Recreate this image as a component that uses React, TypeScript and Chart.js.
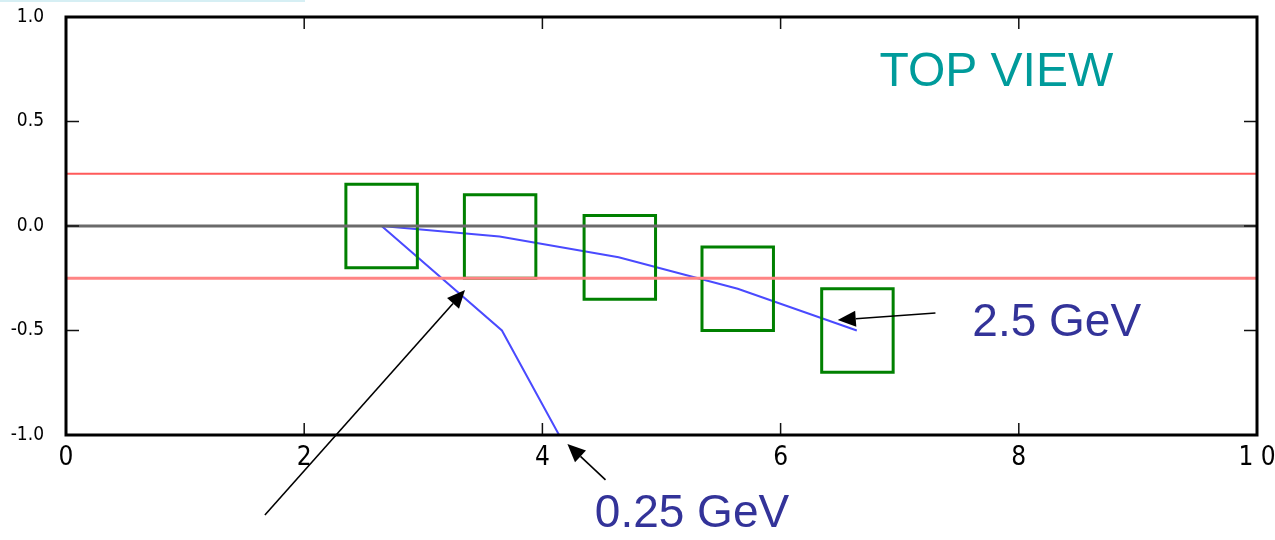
import React, { useEffect, useRef } from "react";
import { Chart, registerables } from "chart.js";

Chart.register(...registerables);

// Axis
const xTicks = [0, 2, 4, 6, 8, 10];
const yTicks = [-1.0, -0.5, 0.0, 0.5, 1.0];

// Reference lines
const redLevels = [0.25, -0.25];
const zeroLevel = 0;

// Track boxes (centers, size)
const boxX = [2.65, 3.645, 4.65, 5.64, 6.645];
const boxY = [0.0, -0.05, -0.15, -0.3, -0.5];
const boxW = 0.6;
const boxH = 0.4;

// 2.5 GeV trajectory
const highX = [2.65, 3.64, 4.64, 5.64, 6.64];
const highY = [0.0, -0.05, -0.15, -0.3, -0.5];

// 0.25 GeV trajectory
const lowX = [2.65, 3.66, 4.14];
const lowY = [0.0, -0.5, -1.0];

// Annotations (data coordinates)
const arrows = [
  { from: [1.67, -1.383], to: [3.35, -0.306] },
  { from: [4.53, -1.215], to: [4.21, -1.043] },
  { from: [7.30, -0.416], to: [6.48, -0.45] },
];
const labels = [
  { text: "TOP VIEW", x: 6.83, y: 0.67, color: "#009b9b", size: 48 },
  { text: "2.5 GeV", x: 7.61, y: -0.526, color: "#333399", size: 46 },
  { text: "0.25 GeV", x: 4.44, y: -1.44, color: "#333399", size: 46 },
];

const tickFamily = '"DejaVu Sans Condensed", "Liberation Sans Narrow", "DejaVu Sans", sans-serif';

export default function App() {
  const ref = useRef<HTMLCanvasElement | null>(null);

  useEffect(() => {
    if (!ref.current) return;

    const boxDatasets = boxX.map((cx, i) => {
      const cy = boxY[i];
      const x0 = cx - boxW / 2, x1 = cx + boxW / 2;
      const y0 = cy - boxH / 2, y1 = cy + boxH / 2;
      return {
        type: "line" as const,
        data: [
          { x: x0, y: y0 }, { x: x1, y: y0 }, { x: x1, y: y1 },
          { x: x0, y: y1 }, { x: x0, y: y0 },
        ],
        borderColor: "#008000",
        borderWidth: 3,
        pointRadius: 0,
        fill: false,
        tension: 0,
        borderJoinStyle: "miter" as const,
        borderCapStyle: "square" as const,
      };
    });

    const hline = (y: number, color: string, w: number) => ({
      type: "line" as const,
      data: [{ x: 0, y }, { x: 10, y }],
      borderColor: color,
      borderWidth: w,
      pointRadius: 0,
      fill: false,
    });

    const decor = {
      id: "decor",
      beforeDraw(chart: any) {
        const ctx = chart.ctx;
        ctx.save();
        ctx.fillStyle = "#d6eff4";
        ctx.fillRect(0, 0, 305, 2);
        ctx.restore();
      },
      afterDatasetsDraw(chart: any) {
        const ctx = chart.ctx;
        const { left, right, top, bottom } = chart.chartArea;
        const xs = chart.scales.x;
        const ys = chart.scales.y;
        ctx.save();
        ctx.strokeStyle = "#111";
        ctx.lineWidth = 1.5;
        ctx.beginPath();
        xTicks.slice(1, -1).forEach((v) => {
          const px = xs.getPixelForValue(v);
          ctx.moveTo(px, bottom);
          ctx.lineTo(px, bottom - 12);
          ctx.moveTo(px, top);
          ctx.lineTo(px, top + 12);
        });
        yTicks.slice(1, -1).forEach((v) => {
          const py = ys.getPixelForValue(v);
          ctx.moveTo(left, py);
          ctx.lineTo(left + 13, py);
          ctx.moveTo(right, py);
          ctx.lineTo(right - 13, py);
        });
        ctx.stroke();
        ctx.strokeStyle = "#000";
        ctx.lineWidth = 3;
        ctx.strokeRect(left, top, right - left, bottom - top);
        ctx.restore();
      },
      afterDraw(chart: any) {
        const ctx = chart.ctx;
        const xs = chart.scales.x;
        const ys = chart.scales.y;
        ctx.save();
        arrows.forEach((a) => {
          const x0 = xs.getPixelForValue(a.from[0]);
          const y0 = ys.getPixelForValue(a.from[1]);
          const x1 = xs.getPixelForValue(a.to[0]);
          const y1 = ys.getPixelForValue(a.to[1]);
          const ang = Math.atan2(y1 - y0, x1 - x0);
          const hl = 18, hw = 8;
          const bx = x1 - hl * Math.cos(ang);
          const by = y1 - hl * Math.sin(ang);
          ctx.strokeStyle = "#000";
          ctx.lineWidth = 1.6;
          ctx.beginPath();
          ctx.moveTo(x0, y0);
          ctx.lineTo(bx, by);
          ctx.stroke();
          ctx.fillStyle = "#000";
          ctx.beginPath();
          ctx.moveTo(x1, y1);
          ctx.lineTo(bx + hw * Math.sin(ang), by - hw * Math.cos(ang));
          ctx.lineTo(bx - hw * Math.sin(ang), by + hw * Math.cos(ang));
          ctx.closePath();
          ctx.fill();
        });
        labels.forEach((l) => {
          ctx.fillStyle = l.color;
          ctx.font = `${l.size}px "Liberation Sans", Arial, sans-serif`;
          ctx.textAlign = "left";
          ctx.textBaseline = "alphabetic";
          ctx.fillText(l.text, xs.getPixelForValue(l.x), ys.getPixelForValue(l.y));
        });
        ctx.restore();
      },
    };

    const chart = new Chart(ref.current, {
      type: "scatter",
      data: {
        datasets: [
          hline(zeroLevel, "#6a6a6a", 3),
          hline(redLevels[0], "#ff5a5a", 2),
          hline(redLevels[1], "#ff8484", 3),
          ...boxDatasets,
          {
            type: "line" as const,
            data: highX.map((x, i) => ({ x, y: highY[i] })),
            borderColor: "#4a4aff",
            borderWidth: 2,
            pointRadius: 0,
            fill: false,
            tension: 0,
          },
          {
            type: "line" as const,
            data: lowX.map((x, i) => ({ x, y: lowY[i] })),
            borderColor: "#4a4aff",
            borderWidth: 2,
            pointRadius: 0,
            fill: false,
            tension: 0,
          },
        ] as any,
      },
      options: {
        animation: false,
        responsive: false,
        layout: { padding: { top: 17, right: 18, left: 0, bottom: 0 } },
        plugins: {
          legend: { display: false },
          tooltip: { enabled: false },
        },
        scales: {
          x: {
            type: "linear",
            min: 0,
            max: 10,
            afterFit: (s: any) => {
              s.height = 105;
              s.paddingLeft = 0;
              s.paddingRight = 0;
            },
            afterBuildTicks: (s: any) => { s.ticks = xTicks.map((v) => ({ value: v })); },
            grid: { display: false, drawTicks: false },
            border: { display: false },
            ticks: {
              padding: 8,
              color: "#000",
              font: { family: tickFamily, size: 26, weight: "normal condensed" as any },
              maxRotation: 0,
              autoSkip: false,
              callback: (v: any) => (v === 10 ? "1 0" : String(v)),
            },
          },
          y: {
            type: "linear",
            min: -1,
            max: 1,
            afterFit: (s: any) => {
              s.width = 66;
              s.paddingTop = 0;
              s.paddingBottom = 0;
            },
            afterBuildTicks: (s: any) => { s.ticks = yTicks.map((v) => ({ value: v })); },
            grid: { display: false, drawTicks: false },
            border: { display: false },
            ticks: {
              padding: 22,
              color: "#000",
              font: { family: tickFamily, size: 19, weight: "normal condensed" as any },
              autoSkip: false,
              callback: (v: any) => Number(v).toFixed(1),
            },
          },
        },
      },
      plugins: [decor],
    });
    return () => chart.destroy();
  }, []);

  return (
    <div style={{ position: "absolute", left: 0, top: 0, width: 1275, height: 540, background: "#fff" }}>
      <canvas ref={ref} width={1275} height={540} style={{ display: "block" }} />
    </div>
  );
}
